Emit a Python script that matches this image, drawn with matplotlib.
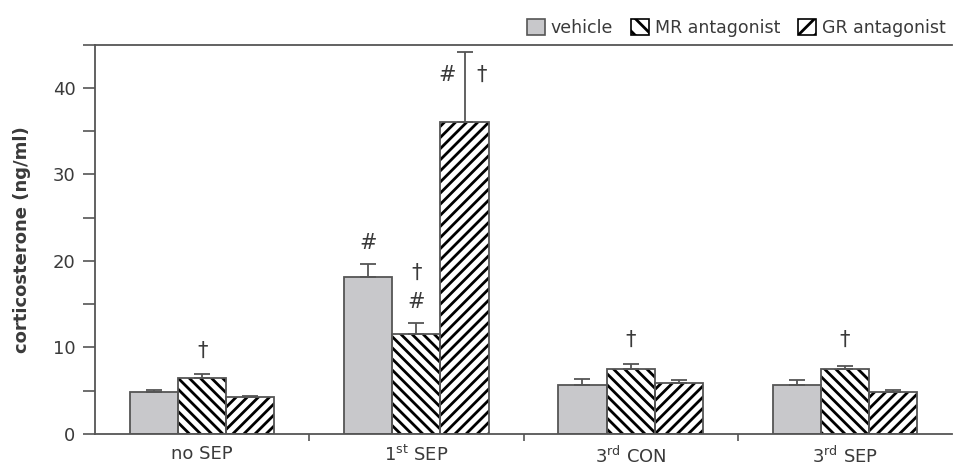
import matplotlib
matplotlib.use('Agg')
import matplotlib.pyplot as plt
import numpy as np
from matplotlib.patches import Patch

plt.rcParams['font.family'] = ['DejaVu Sans']
plt.rcParams['hatch.linewidth'] = 2.0

# group names and treatment series
groups = ['no SEP', '1$^{\\rm st}$ SEP', '3$^{\\rm rd}$ CON', '3$^{\\rm rd}$ SEP']
treatments = ['vehicle', 'MR antagonist', 'GR antagonist']

vehicle = [4.9, 18.1, 5.7, 5.7]
mr_antagonist = [6.5, 11.6, 7.5, 7.5]
gr_antagonist = [4.25, 36.1, 5.9, 4.9]

vehicle_err = [0.2, 1.6, 0.6, 0.5]
mr_err = [0.4, 1.2, 0.6, 0.4]
gr_err = [0.2, 8.1, 0.35, 0.15]

# significance marks: (group, treatment index, symbol, y value, x shift)
marks = [
    (0, 1, '\u2020', 9.6, 0.0),
    (1, 0, '#', 22.1, 0.0),
    (1, 1, '\u2020', 18.6, 0.0),
    (1, 1, '#', 15.3, 0.0),
    (1, 2, '#', 41.5, -0.08),
    (1, 2, '\u2020', 41.5, 0.08),
    (2, 1, '\u2020', 10.9, 0.0),
    (3, 1, '\u2020', 10.9, 0.0),
]

text_col = '#3a3a3a'
line_col = '#555555'

fig = plt.figure(figsize=(9.55, 4.66), dpi=100)
ax = fig.add_axes([95 / 955, 1 - 434 / 466, 857 / 955, (434 - 44.7) / 466])

x = np.arange(len(groups))
w = 0.225
series = [vehicle, mr_antagonist, gr_antagonist]
errs = [vehicle_err, mr_err, gr_err]
fills = ['#c8c8cb', 'white', 'white']
hatches = [None, '\\\\\\', '///']

for i in range(3):
    pos = x + (i - 1) * w
    # fill + black hatch first, then the grey outline on top
    ax.bar(pos, series[i], width=w, color=fills[i], hatch=hatches[i],
           edgecolor='black', linewidth=0, zorder=2)
    ax.bar(pos, series[i], width=w, fill=False,
           edgecolor=line_col, linewidth=1.3, zorder=2.5)
    ax.errorbar(pos, series[i], yerr=[np.zeros(4), errs[i]], fmt='none',
                ecolor=line_col, elinewidth=1.3, capsize=6, capthick=1.3, zorder=3)

for g, t, sym, yv, dx in marks:
    ax.text(x[g] + (t - 1) * w + dx, yv, sym, ha='center', va='center',
            fontsize=15, color=text_col)

ax.set_xlim(-0.5, 3.5)
ax.set_ylim(0, 45)

ax.set_yticks([0, 10, 20, 30, 40])
ax.set_yticks([5, 15, 25, 35, 45], minor=True)
ax.tick_params(axis='y', which='both', direction='out', length=9, width=1.2,
               color=line_col, labelcolor=text_col, labelsize=13, pad=5)

ax.set_xticks([0.5, 1.5, 2.5])
ax.set_xticklabels([])
ax.set_xticks(x, minor=True)
ax.set_xticklabels(groups, minor=True)
ax.tick_params(axis='x', which='major', direction='out', length=5, width=1.2, color=line_col)
ax.tick_params(axis='x', which='minor', length=0, labelcolor=text_col, labelsize=13, pad=8)

for side in ['left', 'bottom', 'top']:
    ax.spines[side].set_color(line_col)
    ax.spines[side].set_linewidth(1.3)
ax.spines['right'].set_visible(False)

ax.set_ylabel('corticosterone (ng/ml)', fontsize=13, fontweight='bold',
              color=text_col, labelpad=16)

handles = [Patch(facecolor=fills[0], edgecolor=line_col, linewidth=1.2),
           Patch(facecolor='white', edgecolor='black', hatch='\\\\', linewidth=1.2),
           Patch(facecolor='white', edgecolor='black', hatch='//', linewidth=1.2)]
leg = fig.legend(handles, treatments, loc='upper right', bbox_to_anchor=(1.003, 0.985),
                 ncol=3, frameon=False, fontsize=12.5, handlelength=1.05, handleheight=1.05,
                 handletextpad=0.35, columnspacing=1.0, borderaxespad=0.3)
for text in leg.get_texts():
    text.set_color(text_col)

fig.savefig('out.png', dpi=100)
